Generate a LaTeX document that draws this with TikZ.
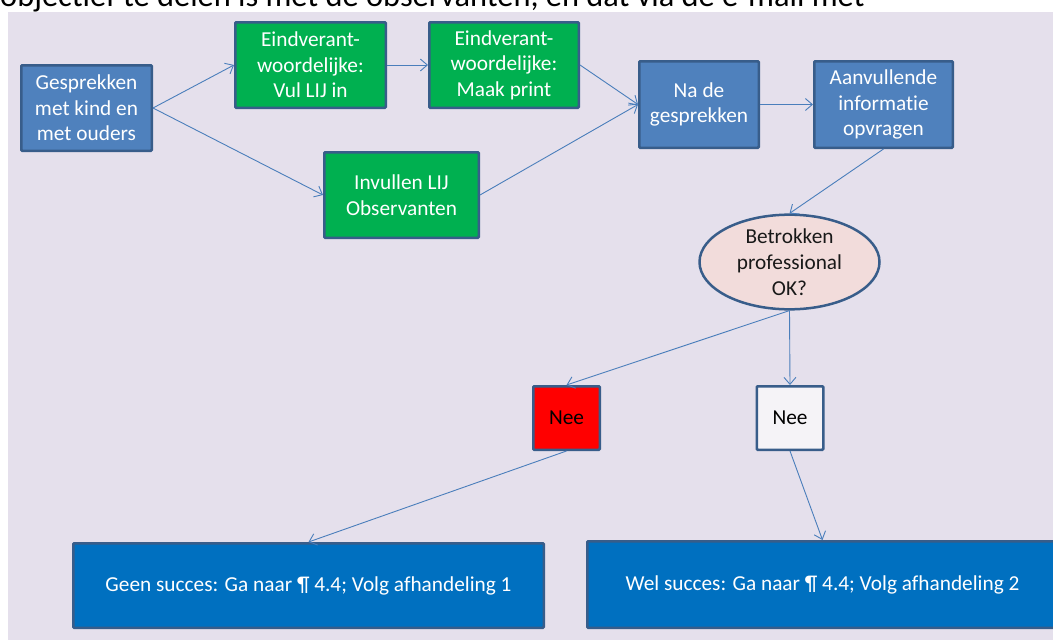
\documentclass[tikz,border=0pt]{standalone}
\usepackage{fontspec}
\setmainfont[Ligatures=NoCommon]{Carlito}
\usetikzlibrary{arrows.meta}
\usetikzlibrary{shapes.geometric}
\definecolor{lavendel}{RGB}{229,224,236}
\definecolor{kaderblauw}{RGB}{56,93,138}
\definecolor{vakblauw}{RGB}{79,129,189}
\definecolor{vakgroen}{RGB}{0,176,80}
\definecolor{donkerblauw}{RGB}{0,112,192}
\definecolor{roze}{RGB}{242,220,219}
\definecolor{pijlblauw}{RGB}{74,126,187}

\tikzset{
  vak/.style={draw=kaderblauw, line width=2.5pt, rounded corners=1pt, text=white, align=center, inner sep=1pt, font=\fontsize{21.3}{25.5}\selectfont},
  blauwvak/.style={vak, fill=vakblauw},
  groenvak/.style={vak, fill=vakgroen},
  eindvak/.style={vak, fill=donkerblauw, minimum width=470.5pt},
  neevak/.style={vak, text=black, minimum width=66.5pt, minimum height=63.5pt},
  pijl/.style={draw=pijlblauw, line width=0.9pt, -{Straight Barb[length=7pt,width=12pt]}}
}

\begin{document}
\begin{tikzpicture}[x=1pt, y=-1pt] % 1 eenheid = 1 pixel, y naar beneden

\clip (0,0) rectangle (1053,640);

% Achtergrond en afgesneden tekstregel
\fill[lavendel] (8,12) rectangle (1053,640);
\node[anchor=base west, inner sep=0pt, font=\fontsize{32.4}{34}\selectfont] (kop) at (0,6.5) {objectief te delen is met de observanten, en dat via de e-mail met};

% Bovenste rij
\node[blauwvak, minimum width=130.5pt, minimum height=85.5pt] (gesprek) at (86.5,108) {Gesprekken\\met kind en\\met ouders};
\node[groenvak, minimum width=150.5pt, minimum height=85.5pt] (vul) at (310.5,65) {Eindverant-\\woordelijke:\\Vul LIJ in};
\node[groenvak, minimum width=149.5pt, minimum height=85.5pt] (print) at (504,65) {Eindverant-\\woordelijke:\\Maak print};
\node[groenvak, minimum width=154.5pt, minimum height=85.5pt] (invul) at (401.5,195) {Invullen LIJ\\Observanten};
\node[blauwvak, minimum width=119.5pt, minimum height=86.5pt] (nade) at (699,104.5) {Na de\\gesprekken};
\node[blauwvak, minimum width=138.5pt, minimum height=86.5pt] (aanv) at (883.5,104.5) {Aanvullende\\informatie\\opvragen};

% Beslissing
\node[ellipse, draw=kaderblauw, line width=2.5pt, fill=roze, text=black!90, align=center, inner sep=0pt,
      minimum width=180pt, minimum height=93pt, font=\fontsize{21.3}{26}\selectfont] (ok) at (789.5,262) {Betrokken\\professional\\OK?};

\node[neevak, fill=red] (neerood) at (566.5,418) {Nee};
\node[neevak, fill=white!60!lavendel] (neewit) at (790,418) {Nee};

% Afhandeling
\node[eindvak, minimum height=84.5pt] (geen) at (308.5,585.5) {Geen succes: Ga naar ¶ 4.4; Volg afhandeling 1};
\node[eindvak, minimum height=86.5pt] (wel) at (822.5,584.5) {Wel succes: Ga naar ¶ 4.4; Volg afhandeling 2};

% Verbindingen
\foreach \van/\naar in {gesprek/vul, gesprek/invul, vul/print, print/nade, invul/nade, nade/aanv} {
  \draw[pijl] (\van.east) -- (\naar.west);
}
\draw[pijl] (aanv.south) -- (ok.north);
\draw[pijl] (ok.south) -- (neerood.north);
\draw[pijl] (ok.south) -- (neewit.north);
\draw[pijl] (neerood.south) -- (geen.north);
\draw[pijl] (neewit.south) -- (wel.north);

\end{tikzpicture}
\end{document}
